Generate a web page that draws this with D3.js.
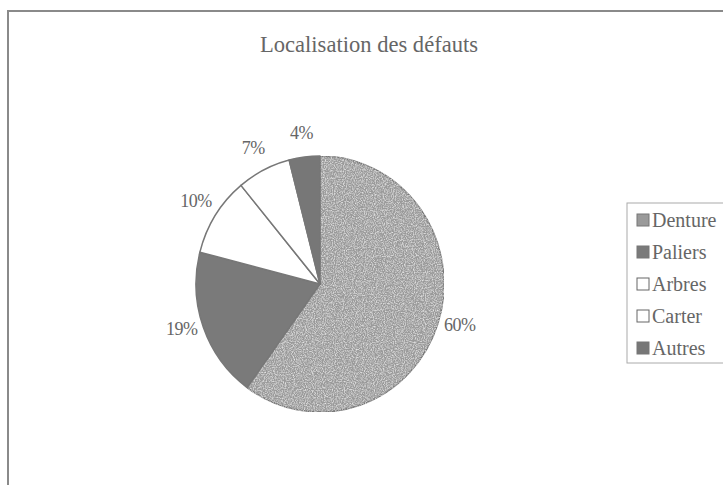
<!DOCTYPE html>
<html><head><meta charset="utf-8">
<script src="https://cdn.jsdelivr.net/npm/d3@7"></script>
<style>html,body{margin:0;padding:0;background:#fff;}svg{display:block;}</style>
</head><body>
<svg id="chart" width="723" height="485"></svg>
<script>
const title = "Localisation des défauts";
const categories = ["Denture", "Paliers", "Arbres", "Carter", "Autres"];
const values = [60, 19, 10, 7, 4];
const labels = ["60%", "19%", "10%", "7%", "4%"];
const fills = ["#9a9a9a", "#7a7a7a", "#ffffff", "#ffffff", "#777777"];

const svg = d3.select("#chart");
const defs = svg.append("defs");
// speckle texture for the first slice
const f = defs.append("filter").attr("id", "speckle").attr("x", 0).attr("y", 0).attr("width", 1).attr("height", 1);
f.append("feTurbulence").attr("type", "fractalNoise").attr("baseFrequency", 0.9).attr("numOctaves", 2).attr("seed", 3).attr("result", "n");
f.append("feColorMatrix").attr("in", "n").attr("type", "matrix")
  .attr("values", "0 0 0 0 1  0 0 0 0 1  0 0 0 0 1  1.4 0 0 0 -0.55").attr("result", "w");
f.append("feComposite").attr("in", "w").attr("in2", "SourceGraphic").attr("operator", "in").attr("result", "wc");
f.append("feMerge").selectAll("feMergeNode").data(["SourceGraphic", "wc"]).join("feMergeNode").attr("in", d => d);

// frame
svg.append("rect").attr("x", 8).attr("y", 11).attr("width", 730).attr("height", 490)
  .attr("fill", "#fff").attr("stroke", "#8a8a8a").attr("stroke-width", 2);

svg.append("text").attr("x", 369).attr("y", 52).attr("text-anchor", "middle")
  .attr("font-family", "'Liberation Serif', 'Times New Roman', serif").attr("font-size", 24)
  .attr("fill", "#666").attr("textLength", 218).attr("lengthAdjust", "spacingAndGlyphs")
  .text(title);

const cx = 320, cy = 284, rx = 124, ry = 128;
const pie = d3.pie().sort(null).value(d => d.v);
const data = pie(categories.map((c, i) => ({c, v: values[i], l: labels[i], f: fills[i]})));
const arc = d3.arc().innerRadius(0).outerRadius(rx);
const g = svg.append("g").attr("transform", `translate(${cx},${cy}) scale(1,${ry / rx})`);
g.selectAll("path").data(data).join("path")
  .attr("d", arc).attr("fill", d => d.data.f)
  .attr("filter", (d, i) => i === 0 ? "url(#speckle)" : null)
  .attr("stroke", "#777").attr("stroke-width", 1.5).attr("stroke-linejoin", "round");

const labelArc = d3.arc().innerRadius(147).outerRadius(147);
const lgp = svg.append("g").attr("transform", `translate(${cx},279)`);
lgp.selectAll("text").data(data).join("text")
  .attr("transform", d => `translate(${labelArc.centroid(d)})`)
  .attr("text-anchor", "middle").attr("dy", "0.35em")
  .attr("font-family", "'Liberation Serif', 'Times New Roman', serif").attr("font-size", 18)
  .attr("fill", "#666").attr("letter-spacing", -0.5)
  .text(d => d.data.l);

// legend
const lg = svg.append("g");
lg.append("rect").attr("x", 627).attr("y", 203).attr("width", 110).attr("height", 160)
  .attr("fill", "#fff").attr("stroke", "#aaa").attr("stroke-width", 1);
const yLeg = d3.scalePoint().domain(categories).range([220, 348]);
const items = lg.selectAll("g.item").data(categories).join("g").attr("class", "item")
  .attr("transform", c => `translate(637,${yLeg(c)})`);
items.append("rect").attr("x", 0).attr("y", -6).attr("width", 12).attr("height", 12)
  .attr("fill", (c, i) => fills[i]).attr("stroke", (c, i) => fills[i] === "#ffffff" ? "#666" : "#777")
  .attr("stroke-width", 1);
items.append("text").attr("x", 15).attr("dy", "0.35em")
  .attr("font-family", "'Liberation Serif', 'Times New Roman', serif").attr("font-size", 20)
  .attr("fill", "#666").text(c => c);
</script>
</body></html>
